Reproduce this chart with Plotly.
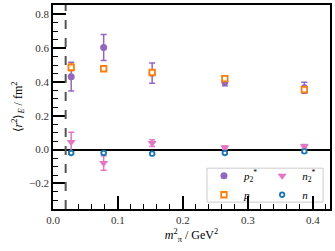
import plotly.graph_objects as go

# ---- data ----
mpi2 = [0.028, 0.078, 0.1527, 0.2646, 0.387]
p2s_val = [0.431, 0.604, 0.452, 0.400, 0.366]
p2s_err = [0.085, 0.077, 0.060, 0.022, 0.033]
p_val = [0.486, 0.478, 0.456, 0.420, 0.355]
p_err = [0.020, 0.008, 0.012, 0.010, 0.010]
n2s_val = [0.045, -0.079, 0.039, 0.012, 0.020]
n2s_err = [0.058, 0.043, 0.020, 0.010, 0.010]
n_val = [-0.020, -0.020, -0.024, -0.020, -0.010]
n_err = [0.008, 0.004, 0.005, 0.008, 0.008]
mpi2_phys = 0.0195

x_ticks = [0.0, 0.1, 0.2, 0.3, 0.4]
y_ticks = [-0.2, 0.0, 0.2, 0.4, 0.6, 0.8]

PURPLE = "#9467bd"
ORANGE = "#ff7f0e"
PINK = "#e377c2"
BLUE = "#1f77b4"
FONT = "Liberation Serif"

fig = go.Figure()

def add(y, e, color, symbol, name, legend, size, filled=True, lw=0):
    fig.add_trace(go.Scatter(
        x=mpi2, y=y, mode="markers", name=name, legend=legend,
        error_y=dict(type="data", array=e, color=color, thickness=1.5, width=3),
        marker=dict(symbol=symbol, size=size,
                    color=color if filled else "white",
                    line=dict(color=color, width=lw)),
    ))

add(p2s_val, p2s_err, PURPLE, "circle", "<i>p</i><sub>2</sub><sup>*</sup>", "legend", 7)
add(p_val, p_err, ORANGE, "square", "<i>p</i>", "legend", 5.5, filled=False, lw=1.8)
add(n2s_val, n2s_err, PINK, "triangle-down", "<i>n</i><sub>2</sub><sup>*</sup>", "legend2", 8)
add(n_val, n_err, BLUE, "circle", "<i>n</i>", "legend2", 4.5, filled=False, lw=1.8)

fig.add_vline(x=mpi2_phys, line=dict(color="#555555", width=2, dash="dash"))

# legend box
fig.add_shape(type="rect", xref="paper", yref="paper", x0=0.556, x1=0.975, y0=0.034, y1=0.2,
              line=dict(color="#cccccc", width=1), fillcolor="white", layer="below")

axis_common = dict(
    showline=True, linecolor="black", linewidth=1.5, mirror=True,
    ticks="inside", ticklen=13, tickwidth=1.5, tickcolor="black",
    showgrid=False, tickformat=".1f",
    tickfont=dict(family=FONT, size=11, color="#333333"),
)

fig.update_layout(
    width=335, height=251,
    margin=dict(l=53, r=3, t=4, b=42),
    plot_bgcolor="white", paper_bgcolor="white",
    font=dict(family=FONT, size=11, color="black"),
    xaxis=dict(range=[0, 0.4265], tickvals=x_ticks,
               minor=dict(ticks="inside", ticklen=5, tickwidth=1.2, dtick=0.02, tickcolor="black", showgrid=False),
               title=dict(text="<i>m</i><sup>2</sup><sub>π</sub> / GeV<sup>2</sup>", standoff=6,
                          font=dict(family=FONT, size=12)),
               zeroline=False, **axis_common),
    yaxis=dict(range=[-0.351, 0.855], tickvals=y_ticks,
               minor=dict(ticks="inside", ticklen=5, tickwidth=1.2, dtick=0.05, tickcolor="black", showgrid=False),
               title=dict(text="⟨<i>r</i><sup>2</sup>⟩<sub><i>E</i></sub> / fm<sup>2</sup>", standoff=4,
                          font=dict(family=FONT, size=12)),
               zeroline=True, zerolinecolor="black", zerolinewidth=1.5, **axis_common),
    legend=dict(x=0.545, y=0.234, xanchor="left", yanchor="top", bgcolor="rgba(0,0,0,0)",
                borderwidth=0, font=dict(family=FONT, size=11), tracegroupgap=0, itemwidth=30),
    legend2=dict(x=0.755, y=0.234, xanchor="left", yanchor="top", bgcolor="rgba(0,0,0,0)",
                 borderwidth=0, font=dict(family=FONT, size=11), tracegroupgap=0, itemwidth=30),
)

fig.write_html("out.html", config={"displayModeBar": False},
               post_script="document.body.style.margin='0';")
